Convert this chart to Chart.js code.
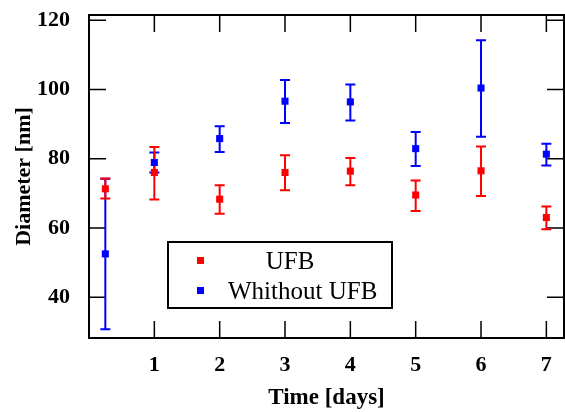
<!DOCTYPE html>
<html lang="en">
<head>
    <meta charset="UTF-8">
    <title>Diameter</title>
    <script src="https://cdn.jsdelivr.net/npm/chart.js"></script>
    <style>
        body { margin: 0; background: #fff; }
    </style>
</head>
<body>
    <canvas id="myChart" width="565" height="412"></canvas>
<script>
    // dados
    var dias = [0.25, 1, 2, 3, 4, 5, 6, 7];
    var ufb = [71.3, 76.0, 68.3, 76.0, 76.4, 69.5, 76.5, 63.0];
    var ufbMin = [68.5, 68.2, 64.1, 70.9, 72.3, 64.9, 69.2, 59.6];
    var ufbMax = [74.3, 83.4, 72.3, 81.0, 80.2, 73.7, 83.5, 66.2];
    var semUfb = [52.5, 78.9, 85.8, 96.6, 96.4, 82.9, 100.4, 81.3];
    var semUfbMin = [30.7, 76.0, 81.9, 90.3, 91.0, 77.9, 86.3, 78.0];
    var semUfbMax = [74.2, 81.8, 89.4, 102.7, 101.4, 87.7, 114.2, 84.3];
    var ticksX = [1, 2, 3, 4, 5, 6, 7];
    var ticksY = [40, 60, 80, 100, 120];

    var serif = "'Liberation Serif', 'Times New Roman', serif";

    function pontos(ys, lo, hi) {
        var out = [];
        for (var i = 0; i < dias.length; i++) {
            out.push({ x: dias[i], y: ys[i], lo: lo[i], hi: hi[i] });
        }
        return out;
    }

    // moldura, marcas para dentro e barras de erro
    const moldura = {
        id: 'moldura',
        beforeDatasetsDraw(chart) {
            const ctx = chart.ctx;
            const a = chart.chartArea;
            const sx = chart.scales.x;
            const sy = chart.scales.y;
            const tl = 17;
            ctx.save();
            ctx.strokeStyle = '#000';
            ctx.lineWidth = 1.5;
            ticksX.forEach(function (v) {
                const px = sx.getPixelForValue(v);
                ctx.beginPath();
                ctx.moveTo(px, a.bottom); ctx.lineTo(px, a.bottom - tl);
                ctx.moveTo(px, a.top); ctx.lineTo(px, a.top + tl);
                ctx.stroke();
            });
            ticksY.forEach(function (v) {
                const py = sy.getPixelForValue(v);
                ctx.beginPath();
                ctx.moveTo(a.left, py); ctx.lineTo(a.left + tl, py);
                ctx.moveTo(a.right, py); ctx.lineTo(a.right - tl, py);
                ctx.stroke();
            });
            ctx.lineWidth = 2;
            ctx.strokeRect(a.left, a.top, a.right - a.left, a.bottom - a.top);

            // barras de erro: azul primeiro, vermelho por cima
            [1, 0].forEach(function (di) {
                const ds = chart.data.datasets[di];
                ctx.strokeStyle = ds.borderColor;
                ctx.lineWidth = 2;
                ds.data.forEach(function (p) {
                    const px = sx.getPixelForValue(p.x);
                    const y1 = sy.getPixelForValue(p.lo);
                    const y2 = sy.getPixelForValue(p.hi);
                    ctx.beginPath();
                    ctx.moveTo(px, y1); ctx.lineTo(px, y2);
                    ctx.moveTo(px - 5, y1); ctx.lineTo(px + 5, y1);
                    ctx.moveTo(px - 5, y2); ctx.lineTo(px + 5, y2);
                    ctx.stroke();
                });
            });
            ctx.restore();
        },
        afterDraw(chart) {
            // legenda desenhada na mao
            const ctx = chart.ctx;
            ctx.save();
            ctx.strokeStyle = '#000';
            ctx.lineWidth = 2;
            ctx.fillStyle = '#fff';
            ctx.fillRect(168, 242, 224, 66);
            ctx.strokeRect(168, 242, 224, 66);
            const ds = chart.data.datasets;
            ctx.font = '25px ' + serif;
            ctx.textBaseline = 'middle';
            ctx.fillStyle = ds[0].backgroundColor;
            ctx.fillRect(197, 257, 7, 7);
            ctx.fillStyle = ds[1].backgroundColor;
            ctx.fillRect(197, 287, 7, 7);
            ctx.fillStyle = '#000';
            ctx.textAlign = 'center';
            ctx.fillText(ds[0].label, 290, 262);
            ctx.textAlign = 'left';
            ctx.fillText(ds[1].label, 228, 292);
            ctx.restore();
        }
    };

    const dados = {
        datasets: [
            {
                label: 'UFB',
                data: pontos(ufb, ufbMin, ufbMax),
                backgroundColor: '#ff0000',
                borderColor: '#ff0000',
                order: 0
            },
            {
                label: 'Whithout UFB',
                data: pontos(semUfb, semUfbMin, semUfbMax),
                backgroundColor: '#0000ff',
                borderColor: '#0000ff',
                order: 1
            }
        ]
    };

    const config = {
        type: 'scatter',
        data: dados,
        options: {
            responsive: false,
            animation: false,
            layout: { autoPadding: false, padding: { top: 15, right: 1, left: 0, bottom: 0 } },
            elements: {
                point: { pointStyle: 'rect', radius: 5, borderWidth: 0, hoverRadius: 5 }
            },
            plugins: {
                legend: { display: false },
                tooltip: { enabled: false }
            },
            scales: {
                x: {
                    type: 'linear',
                    min: 0,
                    max: 7.27,
                    grid: { display: false },
                    border: { display: false },
                    afterBuildTicks: function (s) { s.ticks = ticksX.map(function (v) { return { value: v }; }); },
                    afterFit: function (s) { s.height = 74; s.paddingLeft = 0; s.paddingRight = 0; },
                    ticks: {
                        color: '#000',
                        padding: 6,
                        maxRotation: 0,
                        font: { family: serif, size: 22, weight: 'bold' }
                    },
                    title: {
                        display: true,
                        text: 'Time [days]',
                        color: '#000',
                        padding: { top: 2, bottom: 0 },
                        font: { family: serif, size: 23, weight: 'bold' }
                    }
                },
                y: {
                    type: 'linear',
                    min: 28.2,
                    max: 121.5,
                    grid: { display: false },
                    border: { display: false },
                    afterBuildTicks: function (s) { s.ticks = ticksY.map(function (v) { return { value: v }; }); },
                    afterFit: function (s) { s.width = 89; s.paddingTop = 0; s.paddingBottom = 0; },
                    ticks: {
                        color: '#000',
                        padding: 11,
                        font: { family: serif, size: 22, weight: 'bold' }
                    },
                    title: {
                        display: true,
                        text: 'Diameter [nm]',
                        color: '#000',
                        padding: { top: 11, bottom: 0 },
                        font: { family: serif, size: 22, weight: 'bold' }
                    }
                }
            }
        },
        plugins: [moldura]
    };

    let myChart = new Chart(document.getElementById('myChart'), config);
</script>
</body>
</html>
